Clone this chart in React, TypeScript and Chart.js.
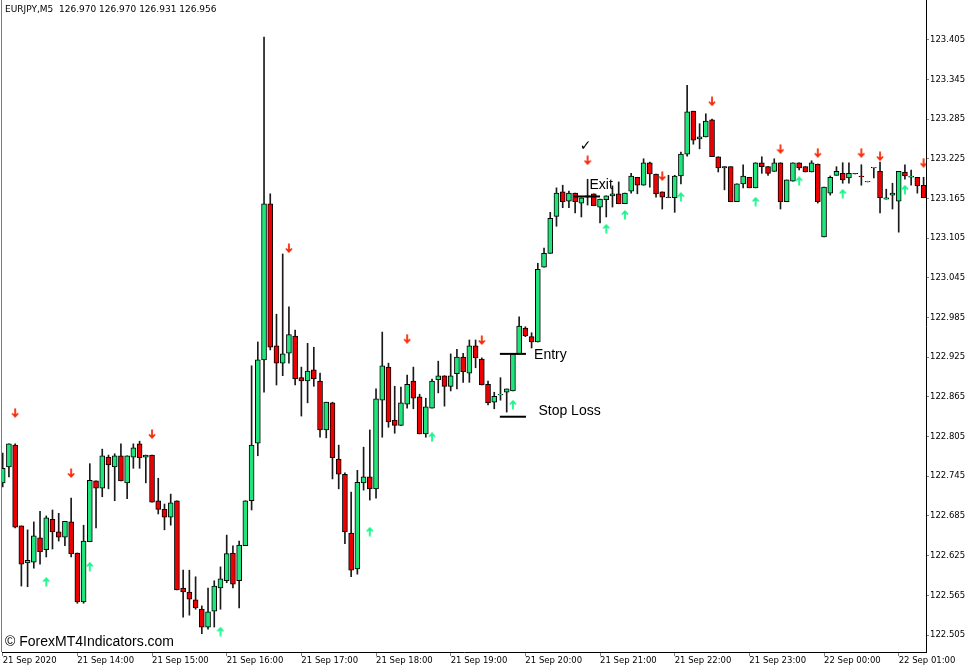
import React, { useEffect, useRef } from "react";
import { Chart, registerables } from "chart.js";

Chart.register(...registerables);

// ---- data (EURJPY M5, bar index 0 = 21 Sep 13:00) ----
const opens = [
  122.735, 122.759, 122.792, 122.670, 122.614, 122.615, 122.652, 122.634, 122.680, 122.661,
  122.653, 122.676, 122.629, 122.555, 122.646, 122.738, 122.727, 122.774, 122.759, 122.776,
  122.735, 122.774, 122.794, 122.774, 122.777, 122.708, 122.695, 122.683, 122.708, 122.576,
  122.570, 122.558, 122.544, 122.517, 122.541, 122.576, 122.587, 122.629, 122.587, 122.640,
  122.708, 122.795, 122.921, 123.157, 122.942, 122.916, 122.931, 122.957, 122.894, 122.889,
  122.906, 122.889, 122.815, 122.856, 122.771, 122.748, 122.659, 122.605, 122.735, 122.744,
  122.726, 122.860, 122.910, 122.830, 122.822, 122.854, 122.889, 122.865, 122.809, 122.848,
  122.891, 122.897, 122.881, 122.900, 122.925, 122.901, 122.942, 122.922, 122.884, 122.857,
  122.868, 122.872, 122.874, 122.930, 122.969, 122.956, 122.948, 123.061, 123.082, 123.138,
  123.175, 123.161, 123.173, 123.158, 123.167, 123.172, 123.152, 123.163, 123.169, 123.172,
  123.157, 123.176, 123.197, 123.185, 123.219, 123.202, 123.175, 123.167, 123.166, 123.199,
  123.232, 123.297, 123.255, 123.258, 123.284, 123.228, 123.213, 123.213, 123.160, 123.187,
  123.197, 123.181, 123.219, 123.213, 123.206, 123.219, 123.160, 123.191, 123.219, 123.213,
  123.205, 123.217, 123.107, 123.173, 123.200, 123.203, 123.196, 123.203, 123.199, 123.190,
  123.211, 123.206, 123.164, 123.170, 123.161, 123.205, 123.197, 123.197, 123.185,
];
const highs = [
  122.780, 122.794, 122.794, 122.670, 122.664, 122.676, 122.692, 122.685, 122.694, 122.689,
  122.677, 122.712, 122.629, 122.671, 122.764, 122.738, 122.786, 122.777, 122.779, 122.794,
  122.776, 122.794, 122.798, 122.777, 122.777, 122.742, 122.703, 122.718, 122.708, 122.603,
  122.603, 122.593, 122.549, 122.576, 122.587, 122.608, 122.656, 122.640, 122.647, 122.708,
  122.912, 122.948, 123.409, 123.172, 122.990, 123.081, 123.001, 122.966, 122.910, 122.946,
  122.940, 122.901, 122.857, 122.857, 122.792, 122.750, 122.721, 122.754, 122.789, 122.815,
  122.877, 122.963, 122.916, 122.881, 122.880, 122.898, 122.910, 122.869, 122.863, 122.892,
  122.919, 122.897, 122.930, 122.937, 122.931, 122.951, 122.951, 122.924, 122.889, 122.872,
  122.894, 122.877, 122.931, 122.986, 122.971, 122.962, 123.067, 123.090, 123.144, 123.181,
  123.185, 123.176, 123.173, 123.166, 123.194, 123.172, 123.164, 123.169, 123.184, 123.190,
  123.173, 123.203, 123.197, 123.225, 123.220, 123.202, 123.175, 123.200, 123.200, 123.235,
  123.336, 123.297, 123.278, 123.293, 123.285, 123.228, 123.213, 123.213, 123.187, 123.216,
  123.197, 123.219, 123.228, 123.213, 123.225, 123.219, 123.193, 123.219, 123.219, 123.213,
  123.222, 123.217, 123.182, 123.199, 123.213, 123.219, 123.219, 123.203, 123.216, 123.191,
  123.212, 123.220, 123.179, 123.188, 123.206, 123.216, 123.208, 123.197, 123.197,
];
const lows = [
  122.729, 122.744, 122.667, 122.579, 122.578, 122.606, 122.612, 122.623, 122.635, 122.647,
  122.640, 122.623, 122.553, 122.553, 122.646, 122.667, 122.714, 122.726, 122.708, 122.738,
  122.711, 122.757, 122.757, 122.735, 122.706, 122.688, 122.664, 122.671, 122.573, 122.532,
  122.535, 122.544, 122.507, 122.514, 122.517, 122.544, 122.584, 122.576, 122.546, 122.640,
  122.694, 122.776, 122.872, 122.936, 122.883, 122.897, 122.916, 122.883, 122.836, 122.856,
  122.881, 122.804, 122.803, 122.741, 122.726, 122.643, 122.593, 122.597, 122.724, 122.709,
  122.712, 122.804, 122.819, 122.810, 122.822, 122.848, 122.847, 122.809, 122.804, 122.848,
  122.871, 122.851, 122.874, 122.877, 122.887, 122.887, 122.909, 122.883, 122.853, 122.847,
  122.860, 122.842, 122.874, 122.930, 122.956, 122.939, 122.948, 123.061, 123.082, 123.123,
  123.151, 123.151, 123.143, 123.137, 123.155, 123.154, 123.128, 123.137, 123.152, 123.157,
  123.157, 123.173, 123.172, 123.185, 123.182, 123.167, 123.149, 123.166, 123.144, 123.187,
  123.229, 123.247, 123.240, 123.258, 123.228, 123.205, 123.178, 123.160, 123.160, 123.181,
  123.181, 123.181, 123.203, 123.200, 123.206, 123.149, 123.160, 123.191, 123.208, 123.205,
  123.205, 123.158, 123.107, 123.170, 123.200, 123.188, 123.188, 123.202, 123.185, 123.190,
  123.196, 123.143, 123.164, 123.149, 123.114, 123.194, 123.185, 123.173, 123.166,
];
const closes = [
  122.757, 122.794, 122.668, 122.612, 122.618, 122.655, 122.631, 122.682, 122.661, 122.653,
  122.677, 122.628, 122.555, 122.647, 122.739, 122.727, 122.776, 122.762, 122.776, 122.738,
  122.776, 122.788, 122.773, 122.777, 122.706, 122.695, 122.683, 122.705, 122.573, 122.570,
  122.559, 122.546, 122.517, 122.540, 122.579, 122.590, 122.628, 122.582, 122.641, 122.708,
  122.792, 122.921, 123.157, 122.940, 122.916, 122.930, 122.959, 122.892, 122.889, 122.904,
  122.892, 122.815, 122.857, 122.773, 122.748, 122.661, 122.603, 122.736, 122.744, 122.726,
  122.862, 122.912, 122.827, 122.822, 122.856, 122.884, 122.863, 122.809, 122.850, 122.889,
  122.897, 122.881, 122.897, 122.925, 122.903, 122.942, 122.924, 122.883, 122.856, 122.866,
  122.869, 122.877, 122.930, 122.972, 122.957, 122.948, 123.058, 123.082, 123.135, 123.173,
  123.160, 123.173, 123.160, 123.166, 123.169, 123.154, 123.164, 123.169, 123.172, 123.157,
  123.173, 123.199, 123.185, 123.219, 123.202, 123.172, 123.167, 123.166, 123.199, 123.232,
  123.296, 123.253, 123.258, 123.282, 123.228, 123.211, 123.211, 123.160, 123.187, 123.199,
  123.181, 123.219, 123.213, 123.203, 123.219, 123.160, 123.193, 123.219, 123.211, 123.205,
  123.219, 123.160, 123.182, 123.197, 123.206, 123.193, 123.203, 123.202, 123.198, 123.191,
  123.212, 123.166, 123.166, 123.173, 123.206, 123.199, 123.199, 123.184, 123.166,
];

const xTickIndex = [0, 12, 24, 36, 48, 60, 72, 84, 96, 108, 120, 132, 144];
const xTickLabels = [
  "21 Sep 2020", "21 Sep 14:00", "21 Sep 15:00", "21 Sep 16:00", "21 Sep 17:00",
  "21 Sep 18:00", "21 Sep 19:00", "21 Sep 20:00", "21 Sep 21:00", "21 Sep 22:00",
  "21 Sep 23:00", "22 Sep 00:00", "22 Sep 01:00",
];
const yTicks = [
  123.405, 123.345, 123.285, 123.225, 123.165, 123.105, 123.045, 122.985,
  122.925, 122.865, 122.805, 122.745, 122.685, 122.625, 122.565, 122.505,
];

const downArrowIdx = [2, 11, 24, 46, 65, 77, 94, 106, 114, 125, 131, 138, 141, 148];
const downArrowPrice = [
  122.841, 122.750, 122.809, 123.090, 122.953, 122.951, 123.223, 123.199, 123.312,
  123.240, 123.234, 123.234, 123.229, 123.219,
];
const upArrowIdx = [7, 14, 35, 59, 69, 82, 97, 100, 109, 121, 128, 135, 145];
const upArrowPrice = [
  122.585, 122.608, 122.510, 122.661, 122.804, 122.853, 123.119, 123.140, 123.167,
  123.160, 123.191, 123.172, 123.178,
];

// trade markers: Entry, Stop Loss, Exit
const tradeNames = ["Entry", "Stop Loss", "Exit"];
const tradeFrom = [79.9, 79.9, 91.8];
const tradeTo = [84.1, 84.1, 96.0];
const tradePrice = [122.930, 122.835, 123.168];
const tradeLabelIdx = [85.4, 86.1, 94.3];
const tradeLabelPrice = [122.923, 122.837, 123.180];
const checkIdx = 93.7;
const checkPrice = 123.243;

const headerText = "EURJPY,M5  126.970 126.970 126.931 126.956";
const watermark = "\u00A9 ForexMT4Indicators.com";

const BULL = "#1ee67c";
const BEAR = "#ee0000";

function makeArrow(up: boolean, color: string): HTMLCanvasElement {
  const c = document.createElement("canvas");
  c.width = 8;
  c.height = 10;
  const g = c.getContext("2d")!;
  g.strokeStyle = color;
  g.lineWidth = 1.8;
  g.beginPath();
  if (up) {
    g.moveTo(4, 9.5);
    g.lineTo(4, 1.5);
    g.moveTo(1, 4.5);
    g.lineTo(4, 1.3);
    g.lineTo(7, 4.5);
  } else {
    g.moveTo(4, 0.5);
    g.lineTo(4, 8.5);
    g.moveTo(1, 5.5);
    g.lineTo(4, 8.7);
    g.lineTo(7, 5.5);
  }
  g.stroke();
  return c;
}

export default function App() {
  const ref = useRef<HTMLCanvasElement | null>(null);

  useEffect(() => {
    if (!ref.current) return;
    const n = opens.length;
    const wickData = [];
    const bodyData = [];
    const bodyColors: string[] = [];
    for (let i = 0; i < n; i++) {
      wickData.push({ x: i, y: [lows[i], highs[i]] });
      bodyData.push({ x: i, y: [Math.min(opens[i], closes[i]), Math.max(opens[i], closes[i])] });
      bodyColors.push(closes[i] >= opens[i] ? BULL : BEAR);
    }
    const downImg = makeArrow(false, "#f52a08");
    const upImg = makeArrow(true, "#19f58a");

    const tradeDatasets = tradeNames.map((name, k) => ({
      type: "line" as const,
      label: name,
      data: [
        { x: tradeFrom[k], y: tradePrice[k] },
        { x: tradeTo[k], y: tradePrice[k] },
      ],
      borderColor: "#000",
      borderWidth: 2,
      pointRadius: 0,
      fill: false,
      order: 1,
    }));

    const overlay = {
      id: "overlay",
      beforeDraw(chart: any) {
        const { ctx, width, height } = chart;
        ctx.save();
        ctx.fillStyle = "#fff";
        ctx.fillRect(0, 0, width, height);
        ctx.restore();
      },
      afterDraw(chart: any) {
        const { ctx, chartArea } = chart;
        const xs = chart.scales.x;
        const ys = chart.scales.y;
        ctx.save();
        ctx.strokeStyle = "#7a7a7a";
        ctx.lineWidth = 1;
        ctx.beginPath();
        ctx.moveTo(chartArea.left - 0.5, 0);
        ctx.lineTo(chartArea.left - 0.5, chartArea.bottom);
        ctx.stroke();

        ctx.fillStyle = "#000";
        ctx.textAlign = "left";
        ctx.textBaseline = "middle";
        ctx.font = '9px "DejaVu Sans"';
        ctx.fillText(headerText, 5, 9.5);

        ctx.font = '14px "Liberation Sans"';
        ctx.textBaseline = "alphabetic";
        tradeNames.forEach((name, k) => {
          ctx.fillText(name, xs.getPixelForValue(tradeLabelIdx[k]), ys.getPixelForValue(tradeLabelPrice[k]));
        });

        ctx.font = 'bold 14px "DejaVu Sans"';
        ctx.textAlign = "center";
        ctx.textBaseline = "middle";
        ctx.fillText("\u2713", xs.getPixelForValue(checkIdx), ys.getPixelForValue(checkPrice));

        ctx.font = '14px "Liberation Sans"';
        ctx.textAlign = "left";
        ctx.textBaseline = "alphabetic";
        ctx.fillText(watermark, 5, 646);
        ctx.restore();
      },
    };

    const chart = new Chart(ref.current, {
      type: "line",
      data: {
        datasets: [
          {
            type: "bar",
            label: "wicks",
            data: wickData as any,
            backgroundColor: "#1a1a1a",
            barThickness: 1,
            grouped: false,
            order: 3,
          } as any,
          {
            type: "bar",
            label: "bodies",
            data: bodyData as any,
            backgroundColor: bodyColors,
            borderColor: "#000",
            borderWidth: 1,
            borderSkipped: false,
            barThickness: 5,
            grouped: false,
            order: 2,
          } as any,
          ...tradeDatasets,
          {
            type: "line",
            label: "sell",
            data: downArrowIdx.map((v, k) => ({ x: v, y: downArrowPrice[k] })),
            showLine: false,
            pointStyle: downImg,
            pointRadius: 5,
            order: 0,
          } as any,
          {
            type: "line",
            label: "buy",
            data: upArrowIdx.map((v, k) => ({ x: v, y: upArrowPrice[k] })),
            showLine: false,
            pointStyle: upImg,
            pointRadius: 5,
            order: 0,
          } as any,
        ],
      },
      options: {
        responsive: false,
        animation: false,
        devicePixelRatio: 1,
        events: [],
        layout: { padding: { left: 2, top: 0, right: 0, bottom: 0 }, autoPadding: false },
        plugins: { legend: { display: false }, tooltip: { enabled: false } },
        scales: {
          x: {
            type: "linear",
            min: -0.1125,
            max: 148.3875,
            bounds: "data",
            offset: false,
            afterBuildTicks: (s: any) => {
              s.ticks = xTickIndex.map((v) => ({ value: v }));
            },
            afterFit: (s: any) => {
              s.height = 20;
              s.paddingLeft = 0;
              s.paddingRight = 0;
              s.paddingTop = 0;
              s.paddingBottom = 0;
            },
            ticks: {
              autoSkip: false,
              maxRotation: 0,
              minRotation: 0,
              align: "start",
              padding: 0,
              color: "#000",
              font: { family: "DejaVu Sans", size: 8.5 },
              callback: (_v: any, i: number) => xTickLabels[i],
            },
            grid: { drawOnChartArea: false, drawTicks: true, tickLength: 4, color: "#808080", offset: false },
            border: { display: true, color: "#000", width: 1 },
          } as any,
          y: {
            type: "linear",
            position: "right",
            min: 122.4793,
            max: 123.46502,
            bounds: "data",
            afterBuildTicks: (s: any) => {
              s.ticks = yTicks.map((v) => ({ value: v }));
            },
            afterFit: (s: any) => {
              s.width = 51;
              s.paddingTop = 0;
              s.paddingBottom = 0;
              s.paddingLeft = 0;
              s.paddingRight = 0;
            },
            ticks: {
              autoSkip: false,
              padding: 1,
              color: "#000",
              font: { family: "DejaVu Sans", size: 8.5 },
              callback: (v: any) => Number(v).toFixed(3),
            },
            grid: { drawOnChartArea: false, drawTicks: true, tickLength: 3, color: "#808080" },
            border: { display: true, color: "#000", width: 1 },
          } as any,
        },
      },
      plugins: [overlay],
    });

    return () => chart.destroy();
  }, []);

  return (
    <div style={{ position: "absolute", left: 0, top: 0, width: 977, height: 672, background: "#fff" }}>
      <canvas ref={ref} width={977} height={672} style={{ display: "block" }} />
    </div>
  );
}
